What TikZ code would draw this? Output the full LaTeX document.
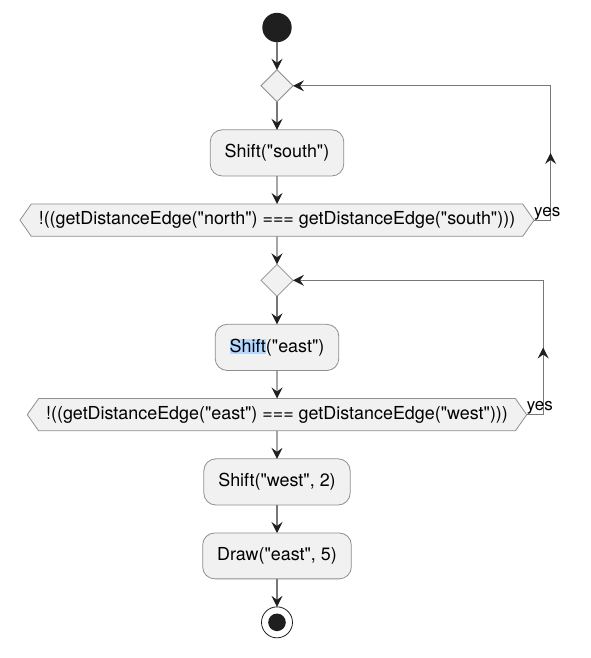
\documentclass[tikz,border=0pt]{standalone}
\usepackage{fontspec}
\setmainfont{TeX Gyre Heros}[Ligatures=TeXOff]
\usetikzlibrary{matrix,shapes.geometric,shapes.symbols,arrows.meta,decorations.markings}

\definecolor{actfill}{HTML}{F1F1F1}
\definecolor{actline}{HTML}{8E8E8E}
\definecolor{flowline}{HTML}{777777}
\definecolor{tipdark}{HTML}{1F1F1F}
\definecolor{selblue}{HTML}{B5D8FF}
\newcommand{\selected}[1]{{\setlength{\fboxsep}{0pt}\colorbox{selblue}{\rule[-0.12em]{0pt}{0.86em}#1}}}

\begin{document}
\begin{tikzpicture}[x=1pt,y=-1pt,
    >={Stealth[length=11pt,width=11pt,inset=4pt,color=tipdark]},
    line/.style={draw=flowline, line width=1.1pt},
    midarrow/.style={postaction={decorate},
        decoration={markings, mark=at position 0.5 with {\arrow{>}}}},
    start/.style={circle, draw=none, fill=tipdark, minimum size=29.4pt, inner sep=0pt},
    stop/.style={circle, draw=tipdark, line width=0.8pt, fill=white, minimum size=31pt, inner sep=0pt,
        path picture={\fill[tipdark] (path picture bounding box.center) circle (8.8pt);}},
    merge/.style={diamond, draw=actline, line width=0.8pt, fill=actfill, minimum width=32pt, minimum height=32pt, inner sep=0pt},
    act/.style={rectangle, rounded corners=12pt, draw=actline, line width=0.8pt, fill=actfill, inner sep=14.5pt},
    test/.style={signal, signal to=west and east, signal pointer angle=110, draw=actline, line width=0.8pt,
        fill=actfill, inner xsep=7.5pt, inner ysep=7.7pt},
    yes/.style={font=\fontsize{17}{20}\selectfont, inner sep=0pt, anchor=base west},
]
    \useasboundingbox (0,0) rectangle (590,658);
    \matrix (flow) at (277,12.6) [
        matrix of nodes,
        anchor=north,
        inner sep=0pt,
        row sep=27.2pt,
        nodes in empty cells,
        nodes={font=\fontsize{17.9}{21}\selectfont, outer sep=0pt},
    ]
    {
    |[start]| \\
    |[merge]| \\
    |[act]| Shift("south") \\
    |[test]| !((getDistanceEdge("north") === getDistanceEdge("south"))) \\
    |[merge]| \\
    |[act]| \selected{Shift}("east") \\
    |[test]| !((getDistanceEdge("east") === getDistanceEdge("west"))) \\
    |[act]| Shift("west", 2) \\
    |[act]| Draw("east", 5) \\
    |[stop]| \\
    };
    \draw[line,->] (flow-1-1) -- (flow-2-1);
    \draw[line,->] (flow-2-1) -- (flow-3-1);
    \draw[line,->] (flow-3-1) -- (flow-4-1);
    \draw[line,->] (flow-4-1) -- (flow-5-1);
    \draw[line,->] (flow-5-1) -- (flow-6-1);
    \draw[line,->] (flow-6-1) -- (flow-7-1);
    \draw[line,->] (flow-7-1) -- (flow-8-1);
    \draw[line,->] (flow-8-1) -- (flow-9-1);
    \draw[line,->] (flow-9-1) -- (flow-10-1);
    % repeat loops
    \coordinate (back1) at ([xshift=16.5pt]flow-4-1.east);
    \coordinate (back2) at ([xshift=16.5pt]flow-7-1.east);
    \draw[line,->] (flow-4-1.east) -- (back1) -- (back1 |- flow-2-1) -- (flow-2-1.east);
    \draw[line,midarrow] (back1) -- (back1 |- flow-2-1);
    \draw[line,->] (flow-7-1.east) -- (back2) -- (back2 |- flow-5-1) -- (flow-5-1.east);
    \draw[line,midarrow] (back2) -- (back2 |- flow-5-1);
    \node[yes] (yes1) at ([yshift=4pt]flow-4-1.east) {yes};
    \node[yes] (yes2) at ([yshift=4pt]flow-7-1.east) {yes};
\end{tikzpicture}
\end{document}
